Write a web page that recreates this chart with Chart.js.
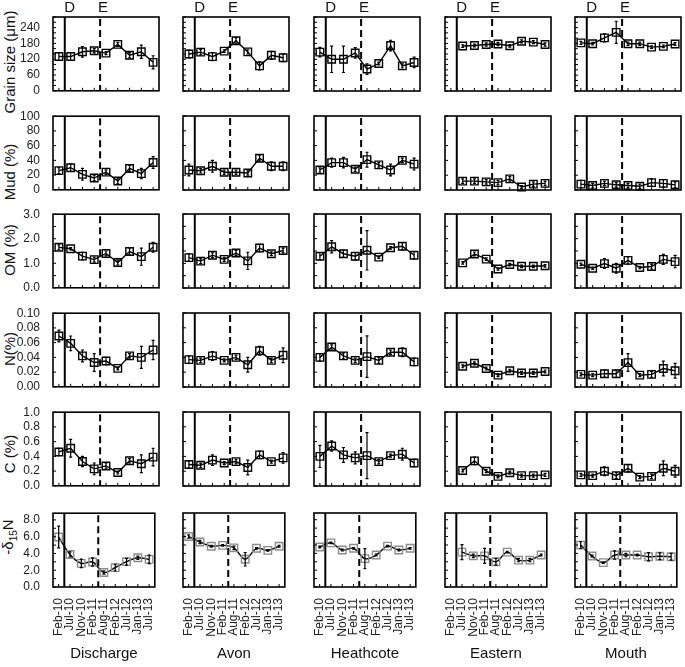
<!DOCTYPE html>
<html>
<head>
<meta charset="utf-8">
<script src="https://cdn.jsdelivr.net/npm/chart.js@4.4.1/dist/chart.umd.min.js"></script>
<style>
body { margin: 0; background: #fff; }
#wrap { position: relative; width: 685px; height: 667px; overflow: hidden; font-family: "Liberation Sans", Arial, sans-serif; }
canvas { position: absolute; }
.ytitle { position: absolute; transform: translate(-50%, -50%) rotate(-90deg); white-space: nowrap; font-size: 15px; color: #111; }
.ytitle sub { font-size: 10px; }
</style>
</head>
<body>
<div id="wrap"></div>
<script>
const dates = ['Feb-10', 'Jul-10', 'Nov-10', 'Feb-11', 'Aug-11', 'Feb-12', 'Jul-12', 'Jan-13', 'Jul-13']
const sites = ['Discharge', 'Avon', 'Heathcote', 'Eastern', 'Mouth']
const rowTitles = ['Grain size (μm)', 'Mud (%)', 'OM (%)', 'N(%)', 'C (%)', '-δ<sub>15</sub>N']

// y axis ranges: max, tick step, labelled step, decimals
const yMax = [280, 100, 3.0, 0.10, 1.0, 8.8]
const yStep = [20, 20, 0.5, 0.02, 0.2, 1]
const yLabelStep = [60, 20, 1, 0.02, 0.2, 2]
const yDecimals = [0, 0, 1, 2, 1, 1]

// one list per site: Discharge, Avon, Heathcote, Eastern, Mouth
const grainSize = [
  [130, 130, 148, 152, 143, 176, 135, 148, 108],
  [140, 147, 130, 151, 190, 148, 95, 135, 126],
  [147, 120, 120, 144, 83, 104, 172, 95, 108],
  [null, 170, 172, 176, 178, 171, 188, 185, 176],
  [182, 179, 201, 222, 179, 179, 166, 169, 178]
]
const grainSizeErr = [
  [15, 15, 20, 8, 6, 8, 10, 25, 25],
  [15, 10, 15, 5, 12, 8, 15, 15, 15],
  [18, 50, 50, 20, 20, 5, 20, 8, 20],
  [0, 5, 5, 6, 6, 5, 6, 6, 6],
  [6, 5, 15, 42, 6, 6, 5, 5, 5]
]
const mud = [
  [26, 30, 21, 16, 24, 12, 29, 22, 37],
  [27, 26, 32, 24, 24, 23, 43, 32, 32],
  [27, 37, 37, 28, 41, 34, 27, 40, 35],
  [null, 12, 12, 11, 10, 15, 4, 8, 9],
  [8, 6, 9, 7, 6, 5, 10, 9, 7]
]
const mudErr = [
  [4, 5, 8, 4, 3, 4, 4, 7, 8],
  [8, 3, 8, 3, 3, 3, 4, 6, 6],
  [3, 6, 7, 3, 10, 3, 8, 3, 8],
  [0, 3, 3, 3, 3, 3, 2, 3, 3],
  [5, 3, 3, 3, 3, 3, 5, 5, 4]
]
const organic = [
  [1.65, 1.59, 1.29, 1.15, 1.40, 1.03, 1.48, 1.27, 1.65],
  [1.23, 1.09, 1.33, 1.16, 1.42, 1.10, 1.62, 1.39, 1.52],
  [1.29, 1.67, 1.39, 1.29, 1.53, 1.25, 1.63, 1.69, 1.33],
  [null, 1.02, 1.38, 1.17, 0.77, 0.95, 0.88, 0.88, 0.90],
  [0.96, 0.80, 0.99, 0.80, 1.12, 0.83, 0.87, 1.16, 1.07]
]
const organicErr = [
  [0.1, 0.05, 0.15, 0.1, 0.1, 0.1, 0.15, 0.35, 0.2],
  [0.15, 0.1, 0.1, 0.08, 0.1, 0.35, 0.15, 0.08, 0.1],
  [0.15, 0.25, 0.15, 0.15, 0.8, 0.05, 0.05, 0.15, 0.15],
  [0, 0.05, 0.08, 0.05, 0.05, 0.05, 0.05, 0.05, 0.05],
  [0.05, 0.05, 0.2, 0.2, 0.15, 0.05, 0.1, 0.2, 0.25]
]
const nitrogen = [
  [0.069, 0.059, 0.042, 0.033, 0.035, 0.025, 0.042, 0.040, 0.050],
  [0.037, 0.036, 0.042, 0.036, 0.040, 0.030, 0.049, 0.036, 0.043],
  [0.040, 0.054, 0.042, 0.036, 0.041, 0.036, 0.047, 0.047, 0.034],
  [null, 0.028, 0.032, 0.025, 0.016, 0.022, 0.019, 0.019, 0.021],
  [0.017, 0.016, 0.018, 0.018, 0.033, 0.016, 0.017, 0.025, 0.022]
]
const nitrogenErr = [
  [0.008, 0.01, 0.008, 0.012, 0.005, 0.002, 0.003, 0.015, 0.013],
  [0.005, 0.003, 0.006, 0.002, 0.003, 0.01, 0.006, 0.003, 0.01],
  [0.005, 0.003, 0.004, 0.003, 0.028, 0.004, 0.003, 0.006, 0.005],
  [0, 0.002, 0.002, 0.002, 0.002, 0.002, 0.002, 0.002, 0.002],
  [0.002, 0.002, 0.005, 0.005, 0.012, 0.002, 0.004, 0.01, 0.01]
]
const carbon = [
  [0.46, 0.51, 0.33, 0.23, 0.27, 0.18, 0.34, 0.30, 0.39],
  [0.29, 0.28, 0.35, 0.31, 0.33, 0.25, 0.42, 0.33, 0.38],
  [0.40, 0.54, 0.42, 0.38, 0.41, 0.33, 0.41, 0.43, 0.31],
  [null, 0.21, 0.34, 0.20, 0.13, 0.18, 0.14, 0.14, 0.15],
  [0.15, 0.14, 0.20, 0.14, 0.24, 0.12, 0.13, 0.24, 0.20]
]
const carbonErr = [
  [0.05, 0.12, 0.07, 0.08, 0.04, 0.02, 0.03, 0.12, 0.12],
  [0.05, 0.03, 0.07, 0.02, 0.03, 0.1, 0.05, 0.02, 0.07],
  [0.15, 0.07, 0.1, 0.08, 0.31, 0.03, 0.02, 0.08, 0.05],
  [0, 0.02, 0.05, 0.02, 0.02, 0.02, 0.02, 0.02, 0.02],
  [0.02, 0.02, 0.06, 0.04, 0.05, 0.02, 0.03, 0.1, 0.08]
]
const d15n = [
  [5.96, 3.88, 2.82, 2.98, 1.73, 2.31, 3.02, 3.49, 3.29],
  [6.0, 5.35, 4.85, 4.95, 4.65, 3.3, 4.6, 4.35, 4.85],
  [4.75, 5.25, 4.4, 4.6, 3.37, 3.8, 4.86, 4.4, 4.6],
  [null, 4.15, 3.7, 3.7, 3.0, 4.15, 3.2, 3.2, 3.8],
  [4.98, 3.69, 2.9, 3.8, 3.8, 3.8, 3.6, 3.65, 3.6]
]
const d15nErr = [
  [1.3, 0.3, 0.5, 0.5, 0.2, 0.4, 0.4, 0.2, 0.5],
  [0.2, 0.2, 0.1, 0.1, 0.2, 0.8, 0.1, 0.1, 0.1],
  [0.1, 0.1, 0.1, 0.1, 1.2, 0.1, 0.1, 0.1, 0.1],
  [0, 0.9, 0.2, 0.9, 0.4, 0.1, 0.2, 0.2, 0.1],
  [0.4, 0.1, 0.1, 0.5, 0.2, 0.1, 0.5, 0.4, 0.4]
]

const rows = [grainSize, mud, organic, nitrogen, carbon, d15n]
const rowErrs = [grainSizeErr, mudErr, organicErr, nitrogenErr, carbonErr, d15nErr]

// layout of the panels on the page
const colX = [53, 183, 314, 445, 575]
const rowY = [17, 116, 214, 313, 412, 513]
const titleY = [62, 172, 250, 349, 454, 537]
const panelW = 106
const panelH = 74
const axisW = 38
const padRight = 8

const wrap = document.getElementById('wrap')

// y titles
for (var r = 0; r < rowTitles.length; r++) {
  var t = document.createElement('div')
  t.className = 'ytitle'
  t.style.left = '9px'
  t.style.top = titleY[r] + 'px'
  t.innerHTML = rowTitles[r]
  wrap.appendChild(t)
}

function makePanelPlugin(r, c) {
  var last = r == rows.length - 1
  return {
    id: 'panel' + r + '_' + c,
    beforeDatasetsDraw: function (chart) {
      var ctx = chart.ctx, a = chart.chartArea, x = chart.scales.x
      ctx.save()
      ctx.strokeStyle = '#000'
      ctx.lineWidth = 2
      var xd = x.getPixelForValue(0.5)
      ctx.beginPath()
      ctx.moveTo(xd, a.top)
      ctx.lineTo(xd, a.bottom)
      ctx.stroke()
      ctx.setLineDash([7, 4])
      var xe = x.getPixelForValue(3.5)
      ctx.beginPath()
      ctx.moveTo(xe, a.top + 2)
      ctx.lineTo(xe, a.bottom)
      ctx.stroke()
      ctx.restore()
    },
    afterDatasetsDraw: function (chart) {
      var ctx = chart.ctx, a = chart.chartArea, x = chart.scales.x, y = chart.scales.y
      var ds = chart.data.datasets[0]
      ctx.save()
      // error bars
      ctx.strokeStyle = '#000'
      ctx.lineWidth = 1.2
      for (var i = 0; i < ds.data.length; i++) {
        var v = ds.data[i].y
        var e = ds.errors[i]
        if (v == null || !e) continue
        var px = x.getPixelForValue(i)
        var top = y.getPixelForValue(v + e)
        var bot = y.getPixelForValue(v - e)
        ctx.beginPath()
        ctx.moveTo(px, top); ctx.lineTo(px, bot)
        ctx.moveTo(px - 1.5, top); ctx.lineTo(px + 1.5, top)
        ctx.moveTo(px - 1.5, bot); ctx.lineTo(px + 1.5, bot)
        ctx.stroke()
      }
      // inward ticks
      ctx.lineWidth = 1
      ctx.beginPath()
      y.ticks.forEach(function (t) {
        var py = y.getPixelForValue(t.value)
        ctx.moveTo(a.left, py); ctx.lineTo(a.left + 3, py)
      })
      x.ticks.forEach(function (t) {
        var px = x.getPixelForValue(t.value)
        ctx.moveTo(px, a.bottom); ctx.lineTo(px, a.bottom - 3)
      })
      ctx.stroke()
      // frame
      ctx.lineWidth = 1.6
      ctx.strokeRect(a.left, a.top, a.right - a.left, a.bottom - a.top)
      ctx.fillStyle = '#111'
      ctx.font = '15px "Liberation Sans", Arial, sans-serif'
      ctx.textAlign = 'center'
      if (r == 0) {
        ctx.textBaseline = 'alphabetic'
        ctx.fillText('D', x.getPixelForValue(0.5) + 5, a.top - 5)
        ctx.fillText('E', x.getPixelForValue(3.5) + 3, a.top - 5)
      }
      if (last) {
        ctx.textBaseline = 'middle'
        ctx.fillText(sites[c], (a.left + a.right) / 2, a.bottom + 67)
      }
      ctx.restore()
    }
  }
}

for (var r = 0; r < rows.length; r++) {
  for (var c = 0; c < sites.length; c++) {
    (function (r, c) {
      var last = r == rows.length - 1
      var padTop = r == 0 ? 17 : 12
      var xAxisH = last ? 80 : 12
      var canvas = document.createElement('canvas')
      canvas.width = axisW + panelW + padRight
      canvas.height = padTop + panelH + xAxisH
      canvas.style.left = (colX[c] - axisW) + 'px'
      canvas.style.top = (rowY[r] - padTop) + 'px'
      wrap.appendChild(canvas)

      var values = rows[r][c]
      var points = values.map(function (v, i) { return { x: i, y: v } })

      new Chart(canvas, {
        type: 'line',
        data: {
          datasets: [{
            data: points,
            errors: rowErrs[r][c],
            borderColor: '#000',
            borderWidth: 1.4,
            tension: last ? 0.35 : 0,
            pointStyle: 'rect',
            pointRadius: 5.3,
            pointBorderWidth: 1.4,
            pointBorderColor: last ? '#8c8c8c' : '#000',
            pointBackgroundColor: 'rgba(255,255,255,0)',
            clip: false
          }]
        },
        options: {
          responsive: false,
          animation: false,
          devicePixelRatio: 1,
          layout: { autoPadding: false, padding: { top: padTop, right: padRight, left: 0, bottom: 0 } },
          plugins: { legend: { display: false }, tooltip: { enabled: false } },
          scales: {
            x: {
              type: 'linear',
              min: -0.5,
              max: 8.5,
              afterBuildTicks: function (s) {
                s.ticks = dates.map(function (d, i) { return { value: i } })
              },
              afterFit: function (s) { s.height = xAxisH },
              grid: { display: false },
              border: { display: false },
              ticks: {
                display: last,
                autoSkip: false,
                minRotation: 90,
                maxRotation: 90,
                padding: 3,
                color: '#222',
                font: { family: '"Liberation Sans", Arial, sans-serif', size: 12 },
                callback: function (v) { return dates[v] }
              }
            },
            y: {
              min: 0,
              max: yMax[r],
              afterFit: function (s) { s.width = axisW },
              grid: { display: false },
              border: { display: false },
              ticks: {
                display: c == 0,
                stepSize: yStep[r],
                includeBounds: false,
                autoSkip: false,
                padding: 5,
                color: '#222',
                font: { family: '"Liberation Sans", Arial, sans-serif', size: 12 },
                callback: function (v) {
                  var k = v / yLabelStep[r]
                  if (Math.abs(k - Math.round(k)) > 1e-6) return ''
                  return v.toFixed(yDecimals[r])
                }
              }
            }
          }
        },
        plugins: [makePanelPlugin(r, c)]
      })
    })(r, c)
  }
}
</script>
</body>
</html>
